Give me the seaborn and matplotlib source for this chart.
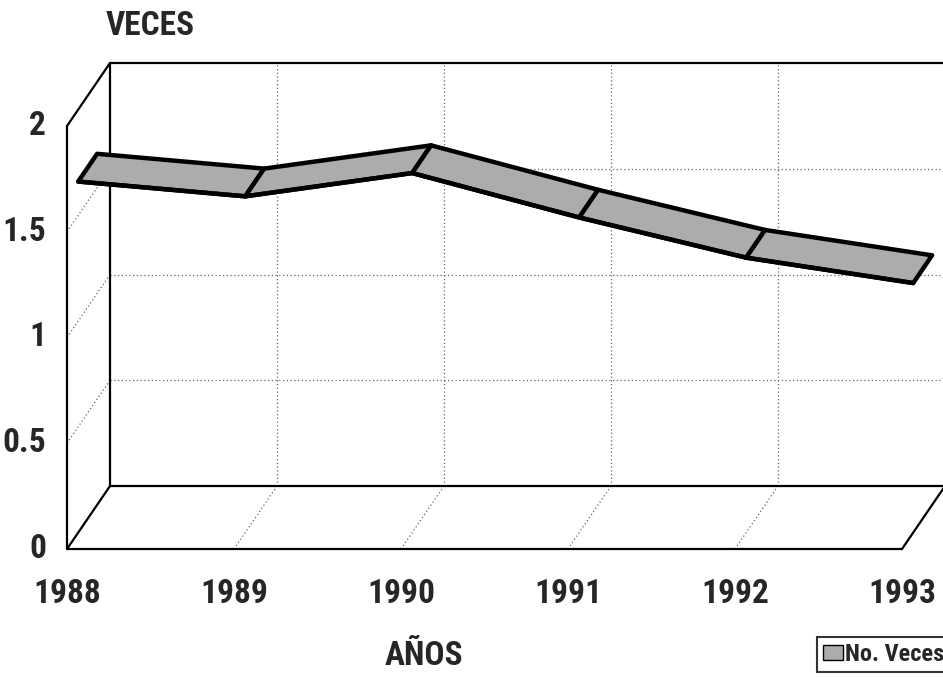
import matplotlib
matplotlib.use("Agg")
import matplotlib.pyplot as plt
import seaborn as sns
import pandas as pd
from matplotlib.patches import Patch

years = ["1988", "1989", "1990", "1991", "1992", "1993"]
veces = [1.66, 1.59, 1.70, 1.49, 1.30, 1.18]
yticks = [0, 0.5, 1, 1.5, 2]
ytick_labels = ["0", "0.5", "1", "1.5", "2"]
series_name = "No. Veces"

sns.set_style("white")
plt.rcParams["font.family"] = ["Roboto Condensed", "DejaVu Sans"]
plt.rcParams["font.weight"] = "bold"

fig = plt.figure(figsize=(9.43, 6.78), dpi=100)
ax = fig.add_axes([67 / 943, 129 / 678, 876 / 943, 489 / 678])
ax.set_xlim(0, 876 / 167)
ax.set_ylim(0, 489 / 211.5)
ax.axis("off")

# depth offset of the fake 3D box, in data units
dx, dy = 43 / 167, 63 / 211.5
n = len(years) - 1
top = yticks[-1]
k = dict(color="black", lw=1.6, clip_on=False, solid_capstyle="round")
g = dict(color="#666666", lw=0.9, ls=(0, (1, 2)), clip_on=False)

# gridlines: back wall, left wall, floor
for v in yticks[1:-1]:
    ax.plot([dx, n + dx + 1], [v + dy, v + dy], **g)
    ax.plot([0, dx], [v, v + dy], **g)
for i in range(1, n):
    ax.plot([i + dx, i + dx], [dy, top + dy], **g)
    ax.plot([i, i + dx], [0, dy], **g)

# box edges
ax.plot([0, 0], [0, top], **k)
ax.plot([0, dx], [top, top + dy], **k)
ax.plot([0, dx], [0, dy], **k)
ax.plot([dx, dx], [dy, top + dy], **k)
ax.plot([dx, n + dx + 1], [top + dy, top + dy], **k)
ax.plot([dx, n + dx + 1], [dy, dy], **k)
ax.plot([0, n], [0, 0], **k)
ax.plot([n, n + dx], [0, dy], **k)

# ribbon
a, b = 0.26, 0.70
df = pd.DataFrame({"x": range(len(years)), "v": veces})
for i in range(n):
    x0, x1 = df.x[i], df.x[i + 1]
    v0, v1 = df.v[i], df.v[i + 1]
    xs = [x0 + a * dx, x1 + a * dx, x1 + b * dx, x0 + b * dx]
    ys = [v0 + a * dy, v1 + a * dy, v1 + b * dy, v0 + b * dy]
    ax.fill(xs, ys, facecolor="#acacac", edgecolor="black", lw=3.2,
            joinstyle="round", zorder=3, clip_on=False)
sns.lineplot(x=df.x + a * dx, y=df.v + a * dy, ax=ax, color="black", lw=3.2,
             zorder=4, legend=False)

# axis labels
for v, lab in zip(yticks, ytick_labels):
    ax.text(-21 / 167, v, lab, ha="right", va="center", fontsize=24)
for i, lab in enumerate(years):
    ax.text(i, -45 / 211.5, lab, ha="center", va="center", fontsize=24)

fig.text(150 / 943, 1 - 26 / 678, "VECES", ha="center", va="center", fontsize=24)
fig.text(424 / 943, 1 - 656 / 678, "AÑOS", ha="center", va="center", fontsize=24)

leg = fig.legend(handles=[Patch(facecolor="#acacac", edgecolor="black", label=series_name)],
                 loc="upper left", bbox_to_anchor=(817 / 943, 1 - 637 / 678),
                 fontsize=17.5, frameon=True, fancybox=False, borderpad=0.25,
                 handlelength=0.8, handleheight=0.6, handletextpad=0.1,
                 borderaxespad=0)
leg.get_frame().set_edgecolor("black")
leg.get_frame().set_linewidth(1.5)

fig.savefig("out.png", dpi=100)
